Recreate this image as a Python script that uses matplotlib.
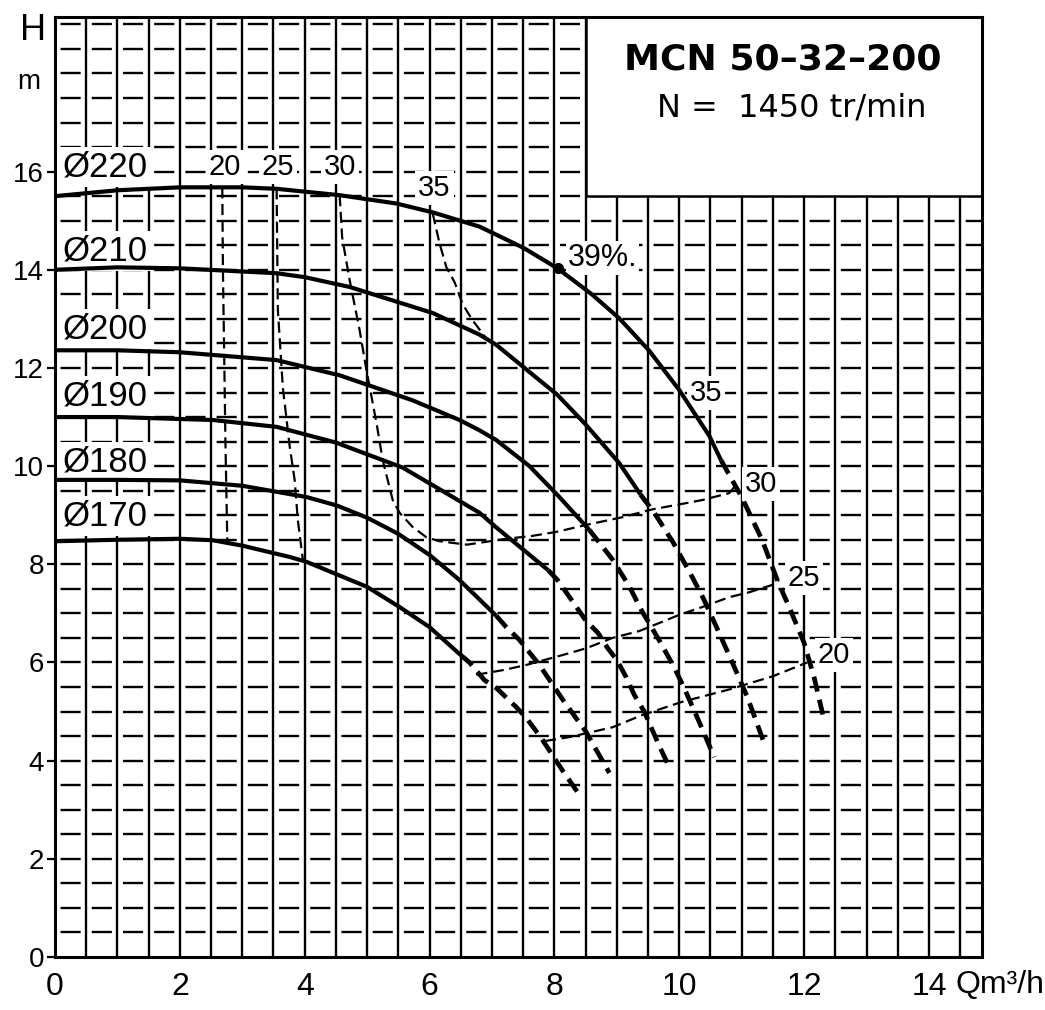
import matplotlib
matplotlib.use('Agg')
import matplotlib.pyplot as plt
from matplotlib.patches import Rectangle

plt.rcParams['lines.scale_dashes'] = False
plt.rcParams['font.family'] = ['Liberation Sans', 'DejaVu Sans']

# ---------------- data (Q in m3/h, H in m) ----------------
diam_labels = ['Ø220', 'Ø210', 'Ø200', 'Ø190', 'Ø180', 'Ø170']
diam_label_h = [16.09, 14.38, 12.8, 11.42, 10.08, 8.98]

# solid (working) part of each head curve
q220 = [0, 1.0, 2.0, 3.0, 3.55, 4.56, 5.47, 6.05, 6.8, 7.5, 8.05, 8.6, 9.04, 9.52, 10.0, 10.48, 10.67]
h220 = [15.5, 15.62, 15.68, 15.68, 15.65, 15.52, 15.35, 15.17, 14.88, 14.45, 14.03, 13.5, 13.01, 12.35, 11.55, 10.62, 10.12]
q210 = [0, 1.0, 2.0, 3.55, 4.0, 4.72, 6.05, 6.8, 7.07, 8.05, 8.5, 9.04, 9.38]
h210 = [14.0, 14.05, 14.03, 13.93, 13.85, 13.65, 13.12, 12.68, 12.47, 11.45, 10.85, 10.06, 9.42]
q200 = [0, 1.0, 2.0, 3.55, 4.56, 5.73, 6.48, 6.8, 7.07, 7.6, 8.08, 8.56]
h200 = [12.36, 12.36, 12.32, 12.16, 11.85, 11.34, 10.94, 10.73, 10.53, 10.0, 9.37, 8.7]
q190 = [0, 1.0, 2.0, 2.53, 3.55, 4.5, 5.57, 6.2, 6.8, 7.07, 7.5, 7.9]
h190 = [11.0, 11.0, 10.96, 10.94, 10.8, 10.48, 9.97, 9.5, 9.05, 8.75, 8.3, 7.88]
q180 = [0, 1.0, 2.0, 3.0, 4.03, 4.51, 5.0, 5.5, 6.0, 6.48, 7.07]
h180 = [9.72, 9.72, 9.71, 9.6, 9.37, 9.2, 8.95, 8.62, 8.19, 7.68, 6.95]
q170 = [0, 1.0, 2.0, 2.53, 3.0, 3.76, 4.03, 5.0, 5.52, 6.0, 6.5]
h170 = [8.47, 8.5, 8.52, 8.49, 8.38, 8.15, 8.05, 7.54, 7.13, 6.72, 6.15]

# dashed (extension) part of each head curve
q220d = [10.67, 11.0, 11.33, 11.57, 11.76, 12.0, 12.16, 12.32]
h220d = [10.12, 9.37, 8.49, 7.68, 7.13, 6.4, 5.7, 4.83]
q210d = [9.38, 9.6, 9.9, 10.2, 10.4, 10.64, 10.85, 11.09, 11.36]
h210d = [9.42, 9.05, 8.45, 7.76, 7.27, 6.6, 6.0, 5.3, 4.36]
q200d = [8.56, 8.93, 9.2, 9.4, 9.68, 9.92, 10.1, 10.35, 10.56]
h200d = [8.7, 8.1, 7.55, 7.05, 6.45, 5.9, 5.42, 4.7, 4.07]
q190d = [7.9, 8.05, 8.2, 8.5, 8.7, 8.85, 9.0, 9.15, 9.28, 9.44, 9.68, 9.84]
h190d = [7.88, 7.68, 7.41, 6.86, 6.6, 6.3, 6.05, 5.7, 5.34, 5.0, 4.3, 3.87]
q180d = [7.07, 7.23, 7.44, 7.76, 8.13, 8.51, 8.88]
h180d = [6.95, 6.72, 6.46, 5.95, 5.25, 4.58, 3.75]
q170d = [6.5, 6.64, 6.88, 7.07, 7.39, 7.55, 7.79, 8.13, 8.37]
h170d = [6.15, 6.0, 5.64, 5.48, 5.09, 4.87, 4.46, 3.8, 3.36]

# iso-efficiency lines (%)
eff20_left_q = [2.68, 2.69, 2.71, 2.73, 2.76]
eff20_left_h = [15.68, 14.0, 12.3, 10.5, 8.5]
eff25_left_q = [3.55, 3.57, 3.65, 3.76, 3.84, 3.89, 3.97]
eff25_left_h = [15.66, 13.18, 11.6, 10.4, 9.71, 8.9, 8.1]
eff30_q = [4.56, 4.6, 4.72, 4.88, 4.99, 5.15, 5.25, 5.41, 5.52, 5.73, 5.95, 6.16, 6.6,
           7.23, 7.65, 8.03, 8.5, 9.09, 9.57, 10.0, 10.37, 10.8, 10.9]
eff30_h = [15.52, 14.66, 13.79, 12.77, 11.95, 10.88, 10.12, 9.31, 9.05, 8.76, 8.55, 8.47, 8.4,
           8.52, 8.58, 8.66, 8.8, 8.96, 9.12, 9.22, 9.31, 9.45, 9.6]
eff35_q = [6.05, 6.16, 6.27, 6.4, 6.53, 6.69, 6.91]
eff35_h = [15.15, 14.54, 14.05, 13.75, 13.3, 12.97, 12.6]
eff25_right_q = [6.75, 7.2, 7.55, 8.24, 8.51, 8.93, 9.36, 10.0, 10.37, 10.8, 11.12, 11.49, 11.6]
eff25_right_h = [5.75, 5.85, 5.95, 6.19, 6.29, 6.5, 6.64, 6.97, 7.13, 7.33, 7.43, 7.58, 7.68]
eff20_right_q = [7.85, 8.24, 8.93, 9.41, 10.05, 10.8, 11.5, 12.05]
eff20_right_h = [4.4, 4.48, 4.68, 4.93, 5.2, 5.45, 5.72, 6.0]

# efficiency labels: (text, Q, H)
eff_labels = ['20', '25', '30', '35', '35', '30', '25', '20']
eff_label_q = [2.72, 3.57, 4.56, 6.08, 10.43, 11.31, 12.0, 12.48]
eff_label_h = [16.09, 16.09, 16.09, 15.66, 11.49, 9.63, 7.72, 6.15]
best_q, best_h = 8.05, 14.03

x_ticks = [0, 2, 4, 6, 8, 10, 12, 14]
y_ticks = [0, 2, 4, 6, 8, 10, 12, 14, 16]
XMAX, YMAX = 14.85, 19.15

# ---------------- figure ----------------
W, H = 1045, 1010
fig = plt.figure(figsize=(W / 100, H / 100), dpi=100)
ax = fig.add_axes([55 / W, 53 / H, 927 / W, 940 / H])
ax.set_xlim(0, XMAX)
ax.set_ylim(0, YMAX)

# grid: solid verticals, broken horizontals
px_per_unit = 927 / XMAX
cell_pt = 0.5 * px_per_unit * 0.72
gap_pt = 8.0
on_pt = cell_pt - gap_pt
for i in range(1, 30):
    ax.axvline(i * 0.5, color='black', lw=1.7, zorder=1)
for j in range(1, 39):
    ax.axhline(j * 0.5, color='black', lw=1.7, zorder=1,
               linestyle=(on_pt + gap_pt / 2, (on_pt, gap_pt)))

# title box
ax.add_patch(Rectangle((8.5, 15.5), XMAX - 8.5, YMAX - 15.5, facecolor='white',
                       edgecolor='black', lw=1.8, zorder=2, clip_on=False))

solid = [(q220, h220), (q210, h210), (q200, h200), (q190, h190), (q180, h180), (q170, h170)]
dashed = [(q220d, h220d), (q210d, h210d), (q200d, h200d), (q190d, h190d), (q180d, h180d), (q170d, h170d)]
for q, h in solid:
    ax.plot(q, h, color='black', lw=3.0, zorder=5, solid_capstyle='butt',
            solid_joinstyle='round')
for q, h in dashed:
    ax.plot(q, h, color='black', lw=3.4, zorder=5, linestyle=(0, (11, 6)))

iso = [(eff20_left_q, eff20_left_h), (eff25_left_q, eff25_left_h), (eff30_q, eff30_h),
       (eff35_q, eff35_h), (eff25_right_q, eff25_right_h), (eff20_right_q, eff20_right_h)]
for q, h in iso:
    ax.plot(q, h, color='black', lw=1.6, zorder=4, linestyle=(0, (8, 4)))

ax.plot([best_q], [best_h], 'o', color='black', ms=7, zorder=6)

# labels (white boxes interrupt the grid, curves stay on top)
for lab, hh in zip(diam_labels, diam_label_h):
    ax.text(0.12, hh, lab, fontsize=25, ha='left', va='center', zorder=3,
            bbox=dict(boxstyle='square,pad=0.1', fc='white', ec='none'))
for lab, qq, hh in zip(eff_labels, eff_label_q, eff_label_h):
    ax.text(qq, hh, lab, fontsize=21, ha='center', va='center', zorder=3,
            bbox=dict(boxstyle='square,pad=0.1', fc='white', ec='none'))
ax.text(8.21, 14.24, '39%.', fontsize=22, ha='left', va='center', zorder=3,
        bbox=dict(boxstyle='square,pad=0.05', fc='white', ec='none'))

fig.text(783 / W, 1 - 60 / H, 'MCN 50–32–200', fontsize=26, fontweight='bold',
         ha='center', va='center', family='DejaVu Sans')
fig.text(792 / W, 1 - 108 / H, 'N =  1450 tr/min', fontsize=23,
         ha='center', va='center', family='DejaVu Sans')

# axes styling
for s in ax.spines.values():
    s.set_linewidth(2.2)
ax.set_xticks(x_ticks)
ax.set_yticks(y_ticks)
ax.set_xticklabels([str(v) for v in x_ticks], fontsize=23,
                   family=['Liberation Sans Narrow', 'Liberation Sans'])
ax.set_yticklabels([str(v) for v in y_ticks], fontsize=20)
ax.tick_params(axis='x', length=0, pad=11)
ax.tick_params(axis='y', length=6, width=1.6, pad=2, direction='out')
fig.text(33 / W, 1 - 31 / H, 'H', fontsize=26, ha='center', va='center')
fig.text(29 / W, 1 - 82 / H, 'm', fontsize=20, ha='center', va='center')
fig.text(1000 / W, 1 - 985 / H, 'Qm³/h', fontsize=23, ha='center', va='center',
         family=['Liberation Sans Narrow', 'Liberation Sans'])

fig.savefig('out.png', dpi=100, facecolor='white')
